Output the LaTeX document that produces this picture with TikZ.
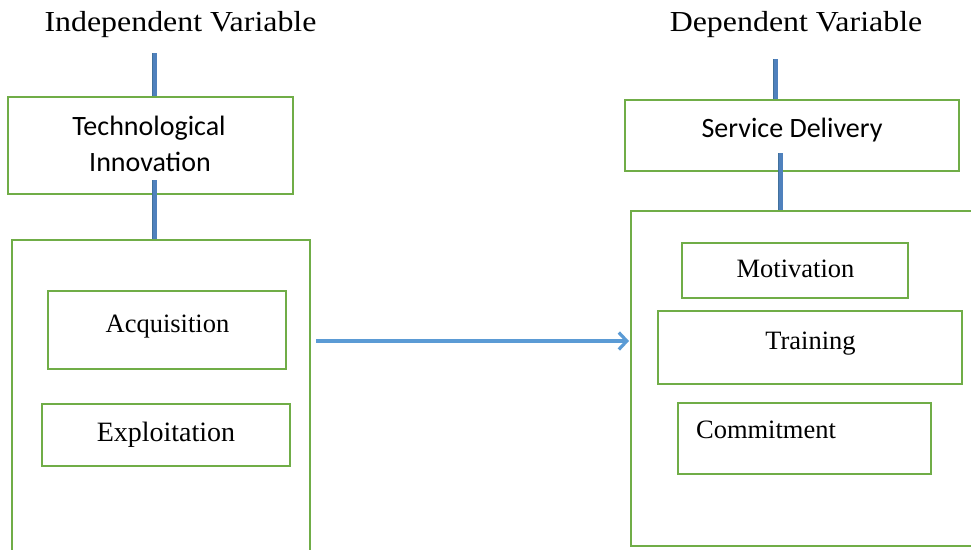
\documentclass[tikz,border=0pt]{standalone}
\usepackage{fontspec}
\setmainfont{Liberation Serif}
\newfontfamily\calfont{Carlito}
\newfontfamily\titlefont{Liberation Serif}[FakeStretch=1.1]
\usetikzlibrary{arrows.meta}
\definecolor{boxgreen}{HTML}{70AD47}
\definecolor{barfill}{HTML}{4F81BD}
\definecolor{baredge}{HTML}{41719C}
\definecolor{arrowblue}{HTML}{5B9BD5}

\begin{document}
\begin{tikzpicture}[x=1pt,y=-1pt,
  box/.style={draw=boxgreen, line width=2pt, rectangle, inner sep=0pt},
  bar/.style={draw=baredge, line width=0.8pt, double=barfill, double distance=4pt},
  arr/.style={draw=arrowblue, line width=3.4pt, -{Straight Barb[length=8pt,width=17pt,line width=3.2pt]}},
  ttl/.style={font=\titlefont\fontsize{29}{34}\selectfont, anchor=base, inner sep=0pt},
  sans/.style={font=\calfont\fontsize{28}{34}\selectfont, anchor=base, inner sep=0pt},
  serif/.style={font=\fontsize{26.5}{32}\selectfont, anchor=base, inner sep=0pt}
]
\useasboundingbox (0,0) rectangle (971,549);

% headings
\node[ttl] (indep) at (180.5,31) {Independent Variable};
\node[ttl] (dep) at (796,31) {Dependent Variable};

% independent side
\node[box, minimum width=285pt, minimum height=97pt] (tech) at (150.5,145.5) {};
\node[sans] (techA) at (149,135) {Technological};
\node[sans] (techB) at (150,171) {Innovation};
\node[box, minimum width=298pt, minimum height=320pt] (lout) at (161,400) {};
\node[box, minimum width=238pt, minimum height=78pt] (acq) at (167,330) {};
\node[serif] (acqT) at (167.5,332) {Acquisition};
\node[box, minimum width=248pt, minimum height=62pt] (expl) at (166,435) {};
\node[serif, font=\fontsize{28}{32}\selectfont] (explT) at (166,441) {Exploitation};

% dependent side
\node[box, minimum width=334pt, minimum height=71pt] (svc) at (792,135.5) {};
\node[sans] (svcT) at (792,137) {Service Delivery};
\node[box, minimum width=354pt, minimum height=335pt] (rout) at (808,378.5) {};
\node[box, minimum width=226pt, minimum height=55pt] (motiv) at (795,270.5) {};
\node[serif] (motivT) at (795.5,277) {Motivation};
\node[box, minimum width=304pt, minimum height=73pt] (train) at (810,347.5) {};
\node[serif] (trainT) at (810.5,349) {Training};
\node[box, minimum width=253pt, minimum height=71pt] (commit) at (804.5,438.5) {};
\node[serif] (commitT) at (766,438) {Commitment};

% vertical links
\coordinate (b1) at (154.5,53);
\draw[bar] (b1) -- (b1 |- tech.north);
\coordinate (b2) at (154.5,180);
\draw[bar] (b2) -- (b2 |- lout.north);
\coordinate (b3) at (775.5,59);
\draw[bar] (b3) -- (b3 |- svc.north);
\coordinate (b4) at (780.5,153);
\draw[bar] (b4) -- (b4 |- rout.north);

% main relation
\draw[arr] (lout.east |- 0,341) ++(5,0) -- ([xshift=-1pt]rout.west |- 0,341);
\end{tikzpicture}
\end{document}
